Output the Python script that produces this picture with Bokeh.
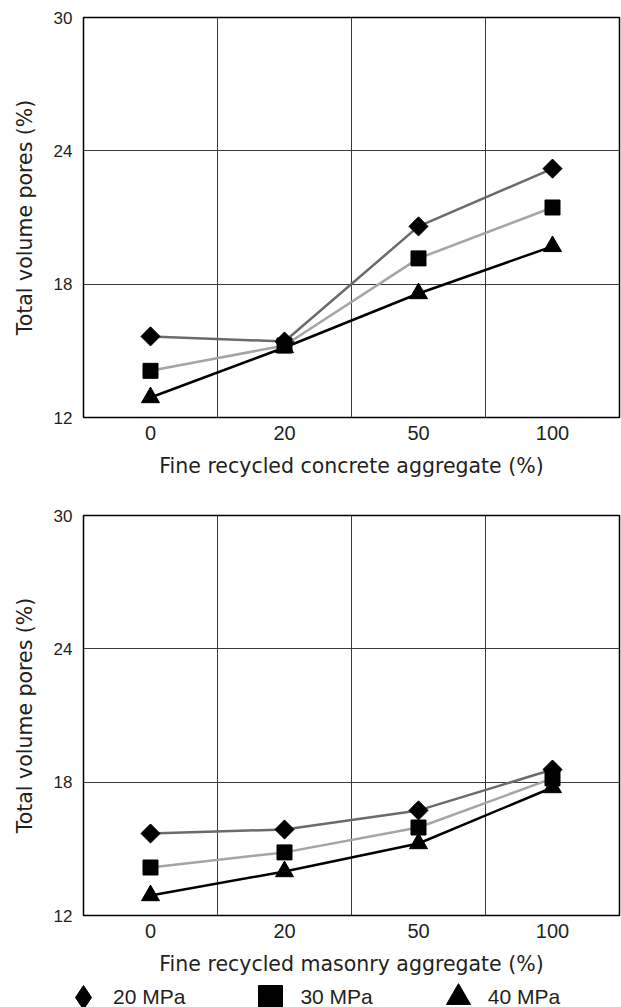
import math
from bokeh.plotting import figure
from bokeh.layouts import column
from bokeh.models import FixedTicker, Range1d, Legend, LegendItem
from bokeh.embed import file_html
from bokeh.resources import INLINE

# ---- data ----
categories = ["0", "20", "50", "100"]
y_ticks = [12, 18, 24, 30]
series_names = ["20 MPa", "30 MPa", "40 MPa"]

concrete_20 = [15.65, 15.42, 20.6, 23.2]
concrete_30 = [14.1, 15.24, 19.16, 21.45]
concrete_40 = [12.9, 15.15, 17.58, 19.7]

masonry_20 = [15.69, 15.87, 16.73, 18.57]
masonry_30 = [14.16, 14.84, 15.96, 18.17]
masonry_40 = [12.9, 13.98, 15.24, 17.76]

line_colors = ["#6b6b6b", "#a5a5a5", "#000000"]
marker_types = ["square", "square", "triangle"]
marker_angles = [math.pi / 4, 0, 0]
marker_sizes = [13.5, 15, 18]
legend_markers = ["diamond", "square", "triangle"]
TEXT = "#231f20"


def make_fig(xlabel, series, top, bottom):
    xs = list(range(len(categories)))
    p = figure(frame_width=536, frame_height=400,
               min_border_left=83, min_border_right=2,
               min_border_top=top, min_border_bottom=bottom,
               x_range=Range1d(-0.5, len(categories) - 0.5),
               y_range=Range1d(y_ticks[0], y_ticks[-1]),
               output_backend="svg", toolbar_location=None,
               background_fill_color="white", border_fill_color="white")
    p.outline_line_color = "black"
    p.outline_line_width = 1.5
    p.outline_line_alpha = 1

    p.xaxis.ticker = FixedTicker(ticks=xs)
    p.xaxis.major_label_overrides = {i: c for i, c in enumerate(categories)}
    p.yaxis.ticker = FixedTicker(ticks=y_ticks)
    p.xgrid.ticker = FixedTicker(ticks=[i + 0.5 for i in xs[:-1]])
    p.grid.grid_line_color = "#3a3a3a"
    p.grid.grid_line_width = 1

    for ax in (p.xaxis, p.yaxis):
        ax.axis_line_color = None
        ax.major_tick_line_color = None
        ax.minor_tick_line_color = None
        ax.major_tick_out = 0
        ax.major_label_text_color = TEXT
        ax.axis_label_text_color = TEXT
        ax.axis_label_text_font = "DejaVu Sans"
        ax.axis_label_text_font_size = "20.5px"
        ax.axis_label_text_font_style = "normal"
        ax.major_label_text_font = "Liberation Sans"

    p.xaxis.major_label_text_font_size = "20px"
    p.xaxis.major_label_standoff = 8
    p.xaxis.axis_label = xlabel
    p.xaxis.axis_label_standoff = 11

    p.yaxis.major_label_text_font_size = "17px"
    p.yaxis.major_label_standoff = 11
    p.yaxis.axis_label = "Total volume pores (%)"
    p.yaxis.axis_label_standoff = 14

    for vals, lc, mt, ma, ms in zip(series, line_colors, marker_types,
                                    marker_angles, marker_sizes):
        p.line(xs, vals, line_color=lc, line_width=2.5)
        p.scatter(xs, vals, marker=mt, angle=ma, size=ms,
                  fill_color="black", line_color="black")
    return p


p1 = make_fig("Fine recycled concrete aggregate (%)",
              [concrete_20, concrete_30, concrete_40], 17, 83)
p2 = make_fig("Fine recycled masonry aggregate (%)",
              [masonry_20, masonry_30, masonry_40], 15, 68)

# legend strip below the second chart (legend-only glyphs, kept outside view)
p3 = figure(width=621, height=24, min_border=0,
            x_range=Range1d(0, 1), y_range=Range1d(0, 1),
            x_axis_location=None, y_axis_location=None,
            output_backend="svg", toolbar_location=None,
            background_fill_color="white", border_fill_color="white")
p3.frame_align = False
p3.outline_line_color = None
p3.grid.visible = False

items = []
for name, mt in zip(series_names, legend_markers):
    r = p3.scatter(x=[-10], y=[-10], marker=mt, size=10,
                   fill_color="black", line_color="black")
    items.append(LegendItem(label=name, renderers=[r], index=0))

legend = Legend(items=items,
                orientation="horizontal", location=(53, -20),
                glyph_width=60, glyph_height=60, padding=0, margin=0,
                spacing=55, label_standoff=-4,
                border_line_color=None, background_fill_alpha=0,
                label_text_font="Liberation Sans", label_text_font_size="21px",
                label_text_color=TEXT)
p3.add_layout(legend, "center")

layout = column(p1, p2, p3, spacing=0)
open("out.html", "w").write(file_html(layout, INLINE))
